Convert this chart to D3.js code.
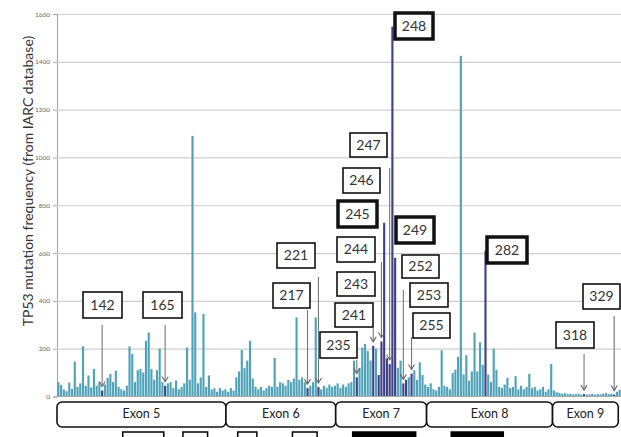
<!DOCTYPE html>
<html>
<head>
<meta charset="utf-8">
<script src="https://cdnjs.cloudflare.com/ajax/libs/d3/7.8.5/d3.min.js"></script>
<style>
  body { margin: 0; background: #fff; }
  svg { display: block; font-family: Lato, "Open Sans", sans-serif; }
</style>
</head>
<body>
<div id="canvas"></div>
<script>
// codons 126..331, mutation counts
const firstCodon = 126;
const frequencies = [
  60, 48, 30, 22, 58, 32, 146, 40, 55, 210,      // 126-135
  45, 88, 38, 115, 45, 60, 25, 50, 78, 95,       // 136-145
  60, 108, 40, 30, 25, 45, 210, 178, 60, 110,    // 146-155
  115, 100, 233, 268, 115, 70, 110, 200, 60, 45, // 156-165
  55, 60, 35, 67, 30, 40, 55, 205, 70, 1090,     // 166-175
  352, 55, 80, 345, 40, 88, 30, 35, 20, 35,      // 176-185
  25, 30, 20, 35, 25, 80, 105, 195, 120, 150,    // 186-195
  233, 75, 40, 30, 40, 25, 35, 45, 40, 161,      // 196-205
  40, 60, 55, 45, 70, 60, 75, 331, 70, 80,       // 206-215
  60, 35, 45, 60, 331, 40, 30, 45, 35, 50,       // 216-225
  40, 45, 55, 35, 50, 40, 55, 60, 150, 80,       // 226-235
  120, 205, 220, 190, 150, 212, 200, 90, 230, 727, // 236-245
  160, 136, 1547, 580, 120, 150, 55, 70, 80, 96, // 246-255
  110, 70, 143, 90, 50, 40, 55, 30, 25, 40,      // 256-265
  193, 45, 40, 30, 98, 112, 166, 1425, 92, 173,  // 266-275
  65, 105, 267, 105, 227, 132, 610, 92, 60, 200, // 276-285
  112, 40, 35, 50, 78, 35, 40, 85, 30, 45,       // 286-295
  30, 40, 95, 35, 40, 25, 30, 40, 20, 30,        // 296-305
  136, 25, 18, 15, 12, 14, 10, 12, 9, 10,        // 306-315
  12, 8, 10, 8, 9, 11, 8, 10, 9, 12,             // 316-325
  14, 10, 12, 8, 20, 28                          // 326-331
];
const codons = frequencies.map((d, i) => firstCodon + i);

const highlighted = [142, 165, 217, 221, 235, 241, 243, 244, 245, 246, 247, 248, 249, 252, 253, 255, 282, 318, 329];
const boldLabels = [245, 248, 249, 282];
const yTicks = [0, 200, 400, 600, 800, 1000, 1200, 1400, 1600];

const exonNames = ["Exon 5", "Exon 6", "Exon 7", "Exon 8", "Exon 9"];
const exonStarts = [126, 187.7, 227.8, 261, 307];
const exonEnds = [187.7, 227.8, 261, 307, 331];

// conserved region markers below the exons
const regionStarts = [150, 172, 192, 212, 234, 270];
const regionEnds = [165, 181, 199, 221, 257, 289];
const regionFilled = [false, false, false, false, true, true];

// callout boxes: [label, left, top, width, height, arrowTop]
const callouts = [
  [142, 83, 292, 39, 26, 325],
  [165, 143, 292, 39, 26, 325],
  [217, 273, 283, 37, 25, 310],
  [221, 277, 243, 38, 25, 277],
  [235, 320, 332, 37, 26, 360],
  [241, 335, 303, 38, 24, 328],
  [243, 337, 272, 38, 24, null],
  [244, 337, 237, 38, 25, 262],
  [245, 338, 201, 39, 26, null],
  [246, 343, 168, 37, 25, null],
  [247, 350, 133, 37, 24, 168],
  [248, 395, 13, 38, 26, null],
  [249, 396, 217, 38, 26, null],
  [252, 402, 255, 37, 23, 290],
  [253, 410, 283, 38, 24, null],
  [255, 413, 313, 37, 25, 337],
  [282, 487, 237, 40, 26, null],
  [318, 556, 322, 38, 26, 354],
  [329, 583, 284, 37, 25, 316]
];

const W = 621, H = 437;
const plot = {left: 57, right: 621, top: 14, bottom: 396.5};

const svg = d3.select("#canvas").append("svg")
    .attr("width", W)
    .attr("height", H);

const xScale = d3.scaleBand()
    .domain(codons)
    .range([plot.left, plot.right])
    .paddingInner(0.22)
    .paddingOuter(0.1);

const xLin = d3.scaleLinear()
    .domain([firstCodon, firstCodon + codons.length])
    .range([plot.left, plot.right]);

const yScale = d3.scaleLinear()
    .domain([0, 1600])
    .range([plot.bottom, plot.top]);

// grid lines and tick labels
const yAxis = svg.append("g")
    .attr("transform", "translate(" + plot.left + ",0)")
    .call(d3.axisLeft(yScale).tickValues(yTicks).tickSize(4).tickPadding(3)
        .tickFormat(d3.format("d")));
yAxis.select(".domain").attr("stroke", "#a8a8a8");
yAxis.selectAll(".tick line").attr("stroke", "#a8a8a8");
yAxis.selectAll(".tick text")
    .attr("fill", "#666")
    .style("font-size", "6.5px")
    .style("font-family", "Lato, sans-serif");

svg.append("g").selectAll("line")
    .data(yTicks.filter(d => d > 0))
    .enter()
    .append("line")
    .attr("x1", plot.left)
    .attr("x2", plot.right)
    .attr("y1", d => yScale(d) + 0.5)
    .attr("y2", d => yScale(d) + 0.5)
    .attr("stroke", "#cfcfcf")
    .attr("stroke-width", 1.2);

svg.append("text")
    .attr("transform", "translate(29,181) rotate(-90)")
    .attr("text-anchor", "middle")
    .attr("dominant-baseline", "middle")
    .attr("fill", "#333")
    .style("font-size", "14px")
    .text("TP53 mutation frequency (from IARC database)");

// bars
svg.append("g").selectAll("rect")
    .data(codons)
    .enter()
    .append("rect")
    .attr("x", c => xScale(c))
    .attr("y", (c, i) => yScale(frequencies[i]))
    .attr("width", xScale.bandwidth())
    .attr("height", (c, i) => plot.bottom - yScale(frequencies[i]))
    .attr("fill", c => highlighted.includes(c) ? "#3f4185" : "#4fa3b9");

// baseline
svg.append("line")
    .attr("x1", plot.left).attr("x2", plot.right)
    .attr("y1", plot.bottom).attr("y2", plot.bottom)
    .attr("stroke", "#a8a8a8");

// callouts
const calloutGroup = svg.append("g");
callouts.forEach(([label, left, top, w, h, arrowTop]) => {
    const bold = boldLabels.includes(label);
    calloutGroup.append("rect")
        .attr("x", left).attr("y", top)
        .attr("width", w).attr("height", h)
        .attr("fill", "#fff")
        .attr("stroke", "#111")
        .attr("stroke-width", bold ? 3.5 : 1.6);
    calloutGroup.append("text")
        .attr("x", left + w / 2)
        .attr("y", top + h / 2 + 1)
        .attr("text-anchor", "middle")
        .attr("dominant-baseline", "middle")
        .attr("fill", "#333")
        .style("font-size", "14px")
        .text(label);
    if (arrowTop !== null) {
        const i = label - firstCodon;
        const ax = xScale(label) + xScale.bandwidth() / 2;
        const ay = Math.min(yScale(frequencies[i]) - 4, plot.bottom - 4);
        calloutGroup.append("line")
            .attr("x1", ax).attr("x2", ax)
            .attr("y1", arrowTop).attr("y2", ay)
            .attr("stroke", "#777")
            .attr("stroke-width", 1.1);
        calloutGroup.append("path")
            .attr("d", "M" + (ax - 3) + "," + (ay - 5) + "L" + ax + "," + ay + "L" + (ax + 3) + "," + (ay - 5))
            .attr("fill", "none")
            .attr("stroke", "#666")
            .attr("stroke-width", 1.1);
    }
});

// exon boxes
const exonGroup = svg.append("g");
exonNames.forEach((name, i) => {
    const x0 = xLin(exonStarts[i]), x1 = Math.min(xLin(exonEnds[i]), W - 2);
    exonGroup.append("rect")
        .attr("x", x0).attr("y", 402)
        .attr("width", x1 - x0).attr("height", 25)
        .attr("rx", 5)
        .attr("fill", "#fff")
        .attr("stroke", "#111")
        .attr("stroke-width", 1.6);
    exonGroup.append("text")
        .attr("x", (x0 + x1) / 2)
        .attr("y", 415)
        .attr("text-anchor", "middle")
        .attr("dominant-baseline", "middle")
        .attr("fill", "#222")
        .style("font-size", "12.5px")
        .text(name);
});

// conserved region markers
svg.append("g").selectAll("rect")
    .data(regionStarts)
    .enter()
    .append("rect")
    .attr("x", (d, i) => xLin(d))
    .attr("y", 432)
    .attr("width", (d, i) => xLin(regionEnds[i]) - xLin(d))
    .attr("height", 8)
    .attr("fill", (d, i) => regionFilled[i] ? "#000" : "#fff")
    .attr("stroke", "#000")
    .attr("stroke-width", 1.5);
</script>
</body>
</html>
